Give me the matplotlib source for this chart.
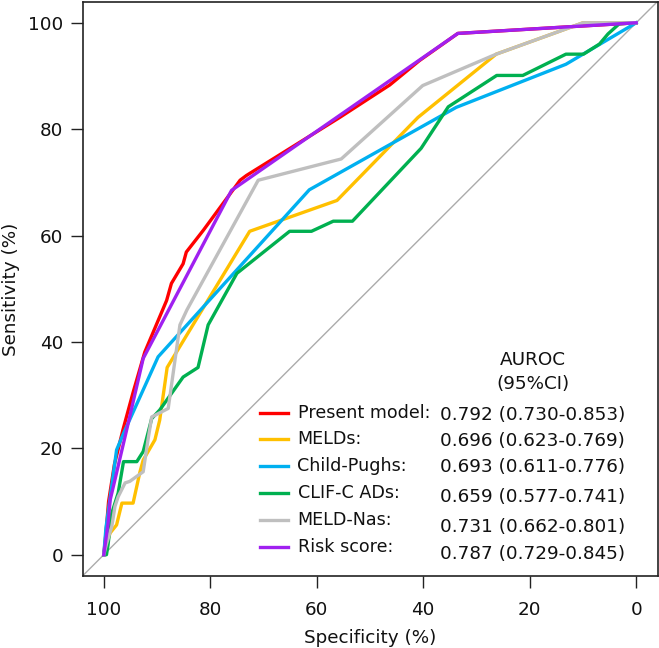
import matplotlib
matplotlib.use("Agg")
import matplotlib.pyplot as plt
from matplotlib.lines import Line2D

plt.rcParams['font.family'] = ['DejaVu Sans']

# ROC curves: specificity (%) and sensitivity (%)
spec_present = [100, 99.6, 99.1, 98.0, 96.4, 94.5, 92.3, 88.2, 87.3, 85.1, 84.5, 81.3, 74.4, 73.2, 55.7, 46.3, 40.7, 33.5, 0]
sens_present = [0, 4, 10, 17, 23.5, 30.5, 38.1, 47.8, 51.0, 54.7, 56.9, 61.0, 70.4, 71.3, 82.2, 88.3, 92.9, 98.0, 100]

spec_meld = [100, 99.5, 98.8, 97.6, 96.6, 94.5, 93.2, 92.6, 90.4, 89.5, 88.1, 72.6, 56.2, 41.0, 26.3, 10.0, 0]
sens_meld = [0, 2, 4.1, 5.6, 9.7, 9.7, 15.6, 17.8, 21.6, 25.3, 35.2, 60.8, 66.6, 82.2, 94.1, 100, 100]

spec_child = [100, 99.6, 98.5, 97.6, 96.3, 89.8, 61.4, 33.8, 13.2, 0]
sens_child = [0, 5, 13, 19.7, 22.8, 37.2, 68.6, 84.1, 92.2, 100]

spec_clif = [100, 99.5, 99.2, 98.5, 97.3, 96.3, 93.8, 92.6, 91.0, 89.5, 85.1, 82.3, 80.4, 75.0, 65.1, 61.0,
             56.9, 53.3, 40.4, 35.3, 26.2, 21.3, 13.2, 9.9, 6.9, 5.3, 3.2, 0]
sens_clif = [0, 0, 1.9, 7.8, 11.6, 17.5, 17.5, 19.4, 25.6, 27.2, 33.4, 35.2, 43.2, 52.9, 60.8, 60.8,
             62.7, 62.7, 76.4, 84.2, 90.1, 90.1, 94.1, 94.1, 96.0, 97.9, 99.8, 100]

spec_meldna = [100, 99.5, 98.5, 97.9, 97.3, 96.0, 95.1, 92.6, 91.7, 91.0, 87.9, 85.7, 84.4, 71.0, 55.4, 40.1, 26.3, 10.0, 0]
sens_meldna = [0, 2, 5.3, 9.1, 10.9, 13.5, 13.8, 15.6, 21.6, 25.9, 27.5, 43.2, 46.0, 70.4, 74.4, 88.2, 94.1, 100, 100]

spec_risk = [100, 99.2, 98.8, 95.7, 92.6, 76.0, 33.5, 0]
sens_risk = [0, 5.9, 10.3, 23.5, 36.9, 68.5, 98.0, 100]

labels = ['Present model:', 'MELDs:', 'Child-Pughs:', 'CLIF-C ADs:', 'MELD-Nas:', 'Risk score:']
aurocs = ['0.792 (0.730-0.853)', '0.696 (0.623-0.769)', '0.693 (0.611-0.776)',
          '0.659 (0.577-0.741)', '0.731 (0.662-0.801)', '0.787 (0.729-0.845)']
colors = ['#FF0000', '#FFC000', '#00B0F0', '#00B050', '#BFBFBF', '#A020F0']

curves = [(spec_present, sens_present), (spec_meld, sens_meld), (spec_child, sens_child),
          (spec_clif, sens_clif), (spec_meldna, sens_meldna), (spec_risk, sens_risk)]

FS = 13.2
TXT = '#111111'
W, H = 659, 648
fig = plt.figure(figsize=(W / 100, H / 100), dpi=100)
ax = fig.add_axes([82.5 / W, 1 - 576 / H, 575 / W, 574.5 / H])

ax.axline((100, 0), (0, 100), color='#ABABAB', lw=1, zorder=1)
for (sx, sy), c in zip(curves, colors):
    ax.plot(sx, sy, color=c, lw=2.4, solid_joinstyle='round', zorder=2)

ax.set_xlim(104, -4)
ax.set_ylim(-4, 104)
ax.set_xticks([100, 80, 60, 40, 20, 0])
ax.set_yticks([0, 20, 40, 60, 80, 100])
ax.tick_params(axis='both', direction='out', length=8.4, width=1, labelsize=FS, colors='#222222',
               labelcolor=TXT)
ax.tick_params(axis='x', pad=9.5)
ax.tick_params(axis='y', pad=5.5)
for s in ax.spines.values():
    s.set_linewidth(1.2)
    s.set_color('#222222')

ax.set_xlabel('Specificity (%)', fontsize=FS, color=TXT)
ax.xaxis.set_label_coords(0.5, (576 - 638) / 574.5)
ax.xaxis.label.set_va('center')
fig.text(11.5 / W, 1 - 289 / H, 'Sensitivity (%)', rotation=90, ha='center', va='center',
         fontsize=FS, color=TXT)

# legend block
def fx(px):
    return px / W

def fy(py):
    return 1 - py / H

label_y = [412.7, 439.3, 466, 493.3, 520, 546.7]
value_y = [414.5, 440.5, 467.5, 497.5, 526.5, 554]
for c, lab, val, ly, vy in zip(colors, labels, aurocs, label_y, value_y):
    fig.add_artist(Line2D([fx(260), fx(288)], [fy(ly), fy(ly)], color=c, lw=2.4))
    fig.text(fx(297.5), fy(ly), lab, ha='left', va='center', fontsize=12.6, color=TXT)
    fig.text(fx(440.5), fy(vy), val, ha='left', va='center', fontsize=FS, color=TXT)
fig.text(fx(532.5), fy(360), 'AUROC', ha='center', va='center', fontsize=FS, color=TXT)
fig.text(fx(532.5), fy(384), '(95%CI)', ha='center', va='center', fontsize=FS, color=TXT)

fig.savefig('out.png', dpi=100)
